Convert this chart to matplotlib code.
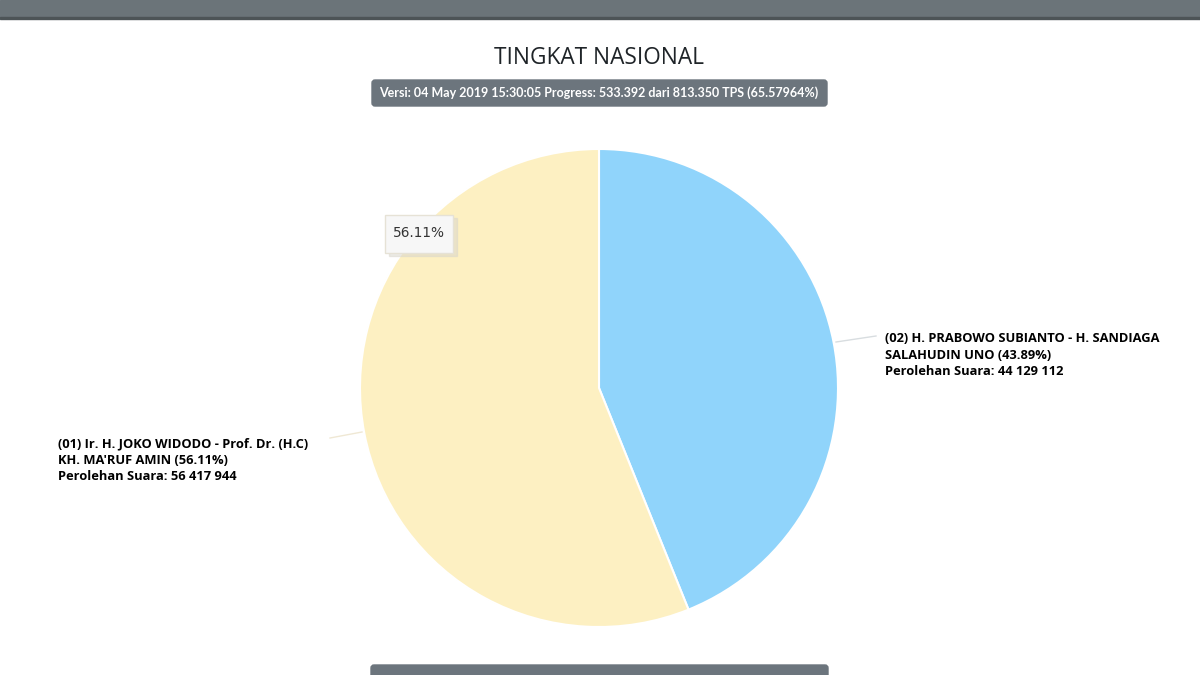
import matplotlib.pyplot as plt
from matplotlib.patches import FancyBboxPatch, Rectangle

# vote shares (percent) and labels
names = ["(02) H. PRABOWO SUBIANTO - H. SANDIAGA\nSALAHUDIN UNO",
         "(01) Ir. H. JOKO WIDODO - Prof. Dr. (H.C)\nKH. MA'RUF AMIN"]
shares = [43.89, 56.11]
votes = ["44 129 112", "56 417 944"]
colors = ["#90d4fb", "#fdf0c2"]

title = "TINGKAT NASIONAL"
subtitle = "Versi: 04 May 2019 15:30:05 Progress: 533.392 dari 813.350 TPS (65.57964%)"

W, H = 1200, 675


def main():
    fig = plt.figure(figsize=(12, 6.75), dpi=100)
    ax = fig.add_axes([0, 0, 1, 1])

    # top nav bar
    ax.add_patch(Rectangle((0, H - 17), W, 17, color="#6b7479", zorder=1))
    ax.add_patch(Rectangle((0, H - 19), W, 2, color="#4d5457", zorder=1))

    # title and version badge
    ax.text(599, H - 58, title, ha="center", va="center", fontsize=16.3,
            family="Open Sans", color="#1f2428")
    ax.add_patch(FancyBboxPatch((372, H - 106), 455, 26,
                                boxstyle="round,pad=0,rounding_size=3",
                                color="#6c757d", zorder=1))
    ax.text(599, H - 93, subtitle, ha="center", va="center", fontsize=9.0,
            family="Lato", weight="bold", color="white")

    # bottom badge (cut off)
    ax.add_patch(FancyBboxPatch((371, -10), 457, 20,
                                boxstyle="round,pad=0,rounding_size=3",
                                color="#6c757d", zorder=1))

    # pie
    cx, cy, r = 599, H - 388, 239
    ax.pie(shares, colors=colors, startangle=90, counterclock=False,
           center=(cx, cy), radius=r, frame=True,
           wedgeprops=dict(edgecolor="white", linewidth=1.5))
    ax.set_xlim(0, W)
    ax.set_ylim(0, H)
    ax.set_aspect("equal")
    ax.axis("off")

    # leader lines
    ax.plot([836, 876], [H - 342, H - 336], color="#d8dde0", lw=1)
    ax.plot([362, 330], [H - 432, H - 438], color="#efe8d4", lw=1)

    # slice labels
    lab_kw = dict(fontsize=9.3, family="Open Sans", weight="bold",
                  color="black", linespacing=1.36, va="top", ha="left")
    ax.text(885, H - 332, "%s (%.2f%%)\nPerolehan Suara: %s" % (names[0], shares[0], votes[0]), **lab_kw)
    ax.text(58, H - 437, "%s (%.2f%%)\nPerolehan Suara: %s" % (names[1], shares[1], votes[1]), **lab_kw)

    # tooltip box
    ax.add_patch(Rectangle((389, H - 256), 68, 38, color="#d9d6cc", alpha=0.5, zorder=4))
    ax.add_patch(Rectangle((385, H - 253), 68, 38, facecolor="#f7f7f7",
                           edgecolor="#e6e2d6", lw=1, zorder=5))
    ax.text(419, H - 233, "%.2f%%" % shares[1], ha="center", va="center",
            fontsize=9.8, family="DejaVu Sans", color="#333333", zorder=6)

    fig.savefig("out.png", dpi=100)


main()
